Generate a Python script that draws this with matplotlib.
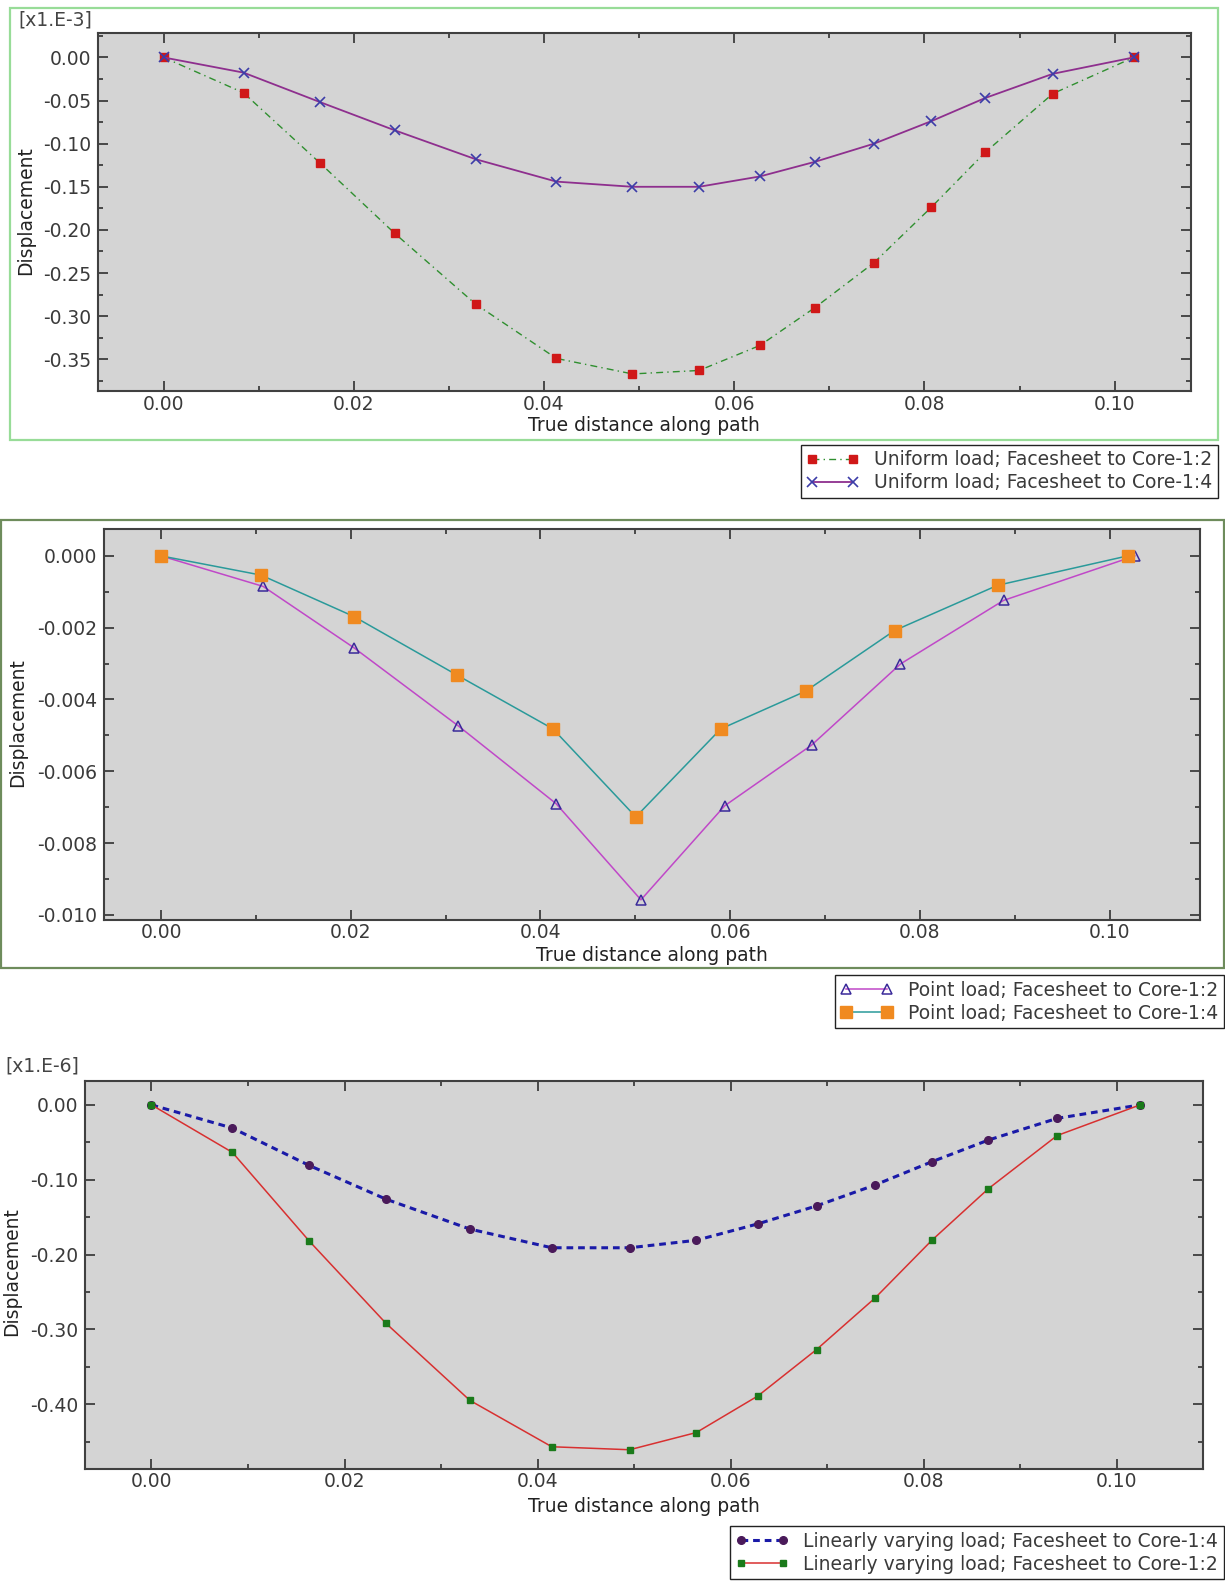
"""Displacement along path: uniform, point and linearly varying loads"""
import numpy as np
import matplotlib
matplotlib.use('Agg')
from matplotlib import pyplot as plt
from matplotlib.ticker import MultipleLocator, FuncFormatter
from matplotlib.patches import Rectangle

# Uniform load (values in x1.E-3)
x_uni = [0.0, 0.0084, 0.0164, 0.0243, 0.0328, 0.0413, 0.0493, 0.0563,
         0.0627, 0.0685, 0.0747, 0.0807, 0.0864, 0.0935, 0.1020]
uni_12 = [0.0, -0.041, -0.122, -0.204, -0.286, -0.349, -0.367, -0.363,
          -0.334, -0.290, -0.238, -0.174, -0.110, -0.042, 0.0]
uni_14 = [0.0, -0.0176, -0.0516, -0.0845, -0.118, -0.144, -0.150, -0.150,
          -0.138, -0.121, -0.100, -0.074, -0.047, -0.019, 0.0]

# Point load
x_pt_12 = [0.0, 0.01076, 0.02034, 0.03131, 0.04164, 0.05059, 0.05942,
           0.06858, 0.07795, 0.08882, 0.10266]
pt_12 = [0.0, -0.00085, -0.00256, -0.00473, -0.00690, -0.00958, -0.00696,
         -0.00527, -0.00301, -0.00124, 0.0]
x_pt_14 = [0.0, 0.01054, 0.02034, 0.03120, 0.04132, 0.05005, 0.05900,
           0.06794, 0.07732, 0.08818, 0.1019]
pt_14 = [0.0, -0.000535, -0.00169, -0.00332, -0.00482, -0.00727, -0.00482,
         -0.00377, -0.00208, -0.00082, 0.0]

# Linearly varying load (values in x1.E-6)
x_lin = [0.0, 0.00838, 0.01634, 0.02429, 0.03298, 0.04147, 0.04953, 0.05644,
         0.06283, 0.06890, 0.07497, 0.08084, 0.08670, 0.09382, 0.10241]
lin_14 = [0.0, -0.031, -0.081, -0.126, -0.166, -0.191, -0.191, -0.181,
          -0.159, -0.135, -0.107, -0.076, -0.047, -0.018, 0.0]
lin_12 = [0.0, -0.0635, -0.182, -0.292, -0.395, -0.457, -0.461, -0.438,
          -0.389, -0.327, -0.258, -0.181, -0.112, -0.041, 0.0]

FS = 13.5
plt.rcParams['font.family'] = 'DejaVu Sans'
plt.rcParams['font.size'] = FS


def fmt(decimals):
    def f(v, pos):
        s = '%.*f' % (decimals, v)
        return s.replace('-0.' + '0' * decimals, '0.' + '0' * decimals)
    return FuncFormatter(f)


def style_axes(ax, xlim, ylim, ymajor, yminor, ydec, xlabel_y):
    ax.set_facecolor('#d4d4d4')
    ax.set_xlim(*xlim)
    ax.set_ylim(*ylim)
    ax.xaxis.set_major_locator(MultipleLocator(0.02))
    ax.xaxis.set_minor_locator(MultipleLocator(0.01))
    ax.yaxis.set_major_locator(MultipleLocator(ymajor))
    ax.yaxis.set_minor_locator(MultipleLocator(yminor))
    ax.xaxis.set_major_formatter(fmt(2))
    ax.yaxis.set_major_formatter(fmt(ydec))
    ax.tick_params(which='both', direction='in', top=True, right=True,
                   color='#303030', labelsize=FS, labelcolor='#3a3a3a')
    ax.tick_params(which='major', length=7, width=1.2, pad=5)
    ax.tick_params(axis='x', which='major', pad=2.5)
    ax.tick_params(which='minor', length=3.5, width=1.2)
    for sp in ax.spines.values():
        sp.set_color('#404040')
        sp.set_linewidth(1.5)
    ax.set_xlabel('True distance along path', color='#222222')
    ax.xaxis.set_label_coords(0.5, xlabel_y)
    ax.xaxis.label.set_va('center')


def add_legend(fig, ax, right, top):
    leg = ax.legend(loc='upper right', bbox_to_anchor=(right, top),
                    bbox_transform=fig.transFigure, numpoints=2,
                    handlelength=2.8, borderpad=0.3, labelspacing=0.2,
                    borderaxespad=0, fancybox=False, framealpha=1,
                    edgecolor='#222222', fontsize=FS)
    leg.get_frame().set_linewidth(1.0)
    for t in leg.get_texts():
        t.set_color('#3a3a3a')
    return leg


fig = plt.figure(figsize=(12.25, 15.85), dpi=100)

# frames around the first two panels
fig.patches.append(Rectangle((0.0083, 0.7226), 0.9859, 0.2723, fill=False,
                             edgecolor='#98dc98', linewidth=1.6,
                             transform=fig.transFigure, figure=fig))
fig.patches.append(Rectangle((0.001, 0.389), 0.998, 0.2832, fill=False,
                             edgecolor='#6e8c5c', linewidth=1.6,
                             transform=fig.transFigure, figure=fig))

# Panel 1: uniform load
ax1 = fig.add_axes([0.080, 0.7532, 0.892, 0.2258])
ax1.plot(x_uni, uni_12, color='#2f8f2f', lw=1.0, dashes=(5, 3, 1, 3),
         marker='s', ms=5.5, mfc='#d01818', mec='#d01818',
         label='Uniform load; Facesheet to Core-1:2')
ax1.plot(x_uni, uni_14, color='#8e2f8e', lw=1.3,
         marker='x', ms=7, mec='#3c3ca8', mew=1.2,
         label='Uniform load; Facesheet to Core-1:4')
style_axes(ax1, (-0.0069, 0.1080), (-0.387, 0.028), 0.05, 0.025, 2, -0.097)
ax1.set_ylabel('Displacement', color='#222222')
ax1.yaxis.set_label_coords(-0.0666, 0.506)
ax1.yaxis.label.set_va('center')
fig.text(0.015, 0.9875, '[x1.E-3]', ha='left', va='center', color='#444444')
add_legend(fig, ax1, 0.9942, 0.7194)

# Panel 2: point load
ax2 = fig.add_axes([0.085, 0.4196, 0.8944, 0.2469])
ax2.plot(x_pt_12, pt_12, color='#c048c8', lw=1.1,
         marker='^', ms=7, mfc='none', mec='#3a2a9a', mew=1.1,
         label='Point load; Facesheet to Core-1:2')
ax2.plot(x_pt_14, pt_14, color='#2a9a9a', lw=1.1,
         marker='s', ms=8, mfc='#f08a20', mec='#f08a20',
         label='Point load; Facesheet to Core-1:4')
style_axes(ax2, (-0.006, 0.1095), (-0.01014, 0.00076), 0.002, 0.001, 3,
           -0.090)
ax2.set_ylabel('Displacement', color='#222222')
ax2.yaxis.set_label_coords(-0.0794, 0.504)
ax2.yaxis.label.set_va('center')
add_legend(fig, ax2, 0.999, 0.3846)

# Panel 3: linearly varying load
ax3 = fig.add_axes([0.0693, 0.0733, 0.9125, 0.2449])
ax3.plot(x_lin, lin_14, color='#1a1aa8', lw=2.2, dashes=(2.2, 1.6),
         marker='o', ms=5.5, mfc='#4a1a5a', mec='#4a1a5a',
         label='Linearly varying load; Facesheet to Core-1:4')
ax3.plot(x_lin, lin_12, color='#d83030', lw=1.1,
         marker='s', ms=5, mfc='#1a7a1a', mec='#1a7a1a',
         label='Linearly varying load; Facesheet to Core-1:2')
style_axes(ax3, (-0.0069, 0.1089), (-0.4865, 0.0324), 0.1, 0.05, 2,
           -0.098)
ax3.set_ylabel('Displacement', color='#222222')
ax3.yaxis.set_label_coords(-0.0651, 0.508)
ax3.yaxis.label.set_va('center')
fig.text(0.004, 0.3272, '[x1.E-6]', ha='left', va='center', color='#444444')
add_legend(fig, ax3, 0.999, 0.037)

fig.savefig('out.png', dpi=100, facecolor='white')
